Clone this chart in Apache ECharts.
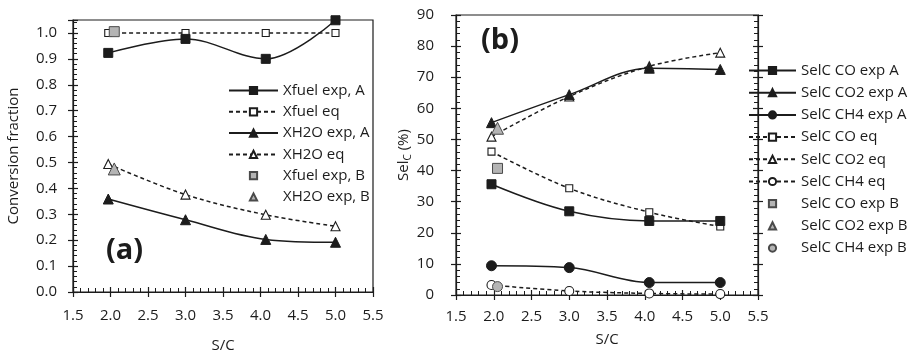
<!DOCTYPE html>
<html>
<head>
<meta charset="utf-8">
<script src="https://cdn.jsdelivr.net/npm/echarts@6/dist/echarts.min.js"></script>
<style>
html,body{margin:0;padding:0;background:#fff;}
#c{width:912px;height:358px;}
</style>
</head>
<body>
<div id="c"></div>
<script>
// ---- Data (panel a) ----
const xA = [1.97, 3.0, 4.07, 5.0];
const xB = [2.05];
const xfuelExpA = [0.923, 0.977, 0.900, 1.049];
const xfuelEq = [1.0, 1.0, 1.0, 1.0];
const xh2oExpA = [0.359, 0.279, 0.203, 0.192];
const xh2oEq = [0.494, 0.376, 0.298, 0.254];
const xfuelExpB = [1.005];
const xh2oExpB = [0.475];

// ---- Data (panel b) ----
const xSel = [1.97, 3.0, 4.06, 5.0];
const selCOexpA = [35.6, 26.9, 23.8, 23.8];
const selCO2expA = [55.4, 64.4, 72.9, 72.5];
const selCH4expA = [9.4, 8.8, 4.0, 4.0];
const selCOeq = [46.1, 34.3, 26.6, 22.0];
const selCO2eq = [50.9, 63.8, 73.5, 77.9];
const selCH4eq = [3.2, 1.3, 0.5, 0.3];
const selCOexpB = [40.7];
const selCO2expB = [53.6];
const selCH4expB = [2.7];

const xTickLabels = ['1.5','2.0','2.5','3.0','3.5','4.0','4.5','5.0','5.5'];
const yTickLabelsA = ['0.0','0.1','0.2','0.3','0.4','0.5','0.6','0.7','0.8','0.9','1.0'];
const yTickLabelsB = ['0','10','20','30','40','50','60','70','80','90'];

const pairs = (xs, ys) => ys.map((y, i) => [xs[i], y]);

const FONT = 'Open Sans';
const INK = '#1c1c1c';
const GREY = '#b4b4b4';

function fmtFrom(list, dec) {
  return function (v) {
    const s = v.toFixed(dec);
    return list.indexOf(s) >= 0 ? s : '';
  };
}

function mainX(gridIndex, margin, name, nameGap) {
  return {
    type: 'value', gridIndex, min: 1.5, max: 5.5, interval: 0.5,
    position: 'bottom',
    name, nameLocation: 'middle', nameGap,
    nameTextStyle: {fontFamily: FONT, fontSize: 15, color: INK},
    axisLine: {show: true, onZero: false, lineStyle: {color: INK, width: 1.2}},
    axisTick: {show: true, inside: true, length: 5, lineStyle: {color: INK, width: 1.2}},
    minorTick: {show: true, splitNumber: 5, length: 4, lineStyle: {color: INK, width: 1}},
    splitLine: {show: false},
    axisLabel: {margin, fontFamily: FONT, fontSize: 15, color: INK, formatter: fmtFrom(xTickLabels, 1)}
  };
}
function outX(gridIndex) {
  return {
    type: 'value', gridIndex, min: 1.5, max: 5.5, interval: 0.5, position: 'bottom',
    axisLine: {show: false, onZero: false},
    axisTick: {show: true, inside: false, length: 5, lineStyle: {color: INK, width: 1.2}},
    axisLabel: {show: false}, splitLine: {show: false}
  };
}
function mainY(gridIndex, min, max, interval, labels, dec, margin, name, nameGap, position, showLabel) {
  return {
    type: 'value', gridIndex, min, max, interval, position: position || 'left',
    name, nameLocation: 'middle', nameGap, nameRotate: 90,
    nameTextStyle: {fontFamily: FONT, fontSize: 15, color: INK,
      rich: {
        n: {fontFamily: FONT, fontSize: 15, color: INK},
        s: {fontFamily: FONT, fontSize: 10, color: INK, verticalAlign: 'bottom', padding: [8, 0, 0, 0]}
      }},
    axisLine: {show: true, onZero: false, lineStyle: {color: INK, width: 1.2}},
    axisTick: {show: true, inside: true, length: 5, lineStyle: {color: INK, width: 1.2}},
    minorTick: {show: true, splitNumber: 5, length: 4, lineStyle: {color: INK, width: 1}},
    splitLine: {show: false},
    axisLabel: {show: showLabel !== false, margin, fontFamily: FONT, fontSize: 15, color: INK, formatter: fmtFrom(labels, dec)}
  };
}
function outY(gridIndex, min, max, interval, position) {
  return {
    type: 'value', gridIndex, min, max, interval, position,
    axisLine: {show: false, onZero: false},
    axisTick: {show: true, inside: false, length: 5, lineStyle: {color: INK, width: 1.2}},
    axisLabel: {show: false}, splitLine: {show: false}
  };
}

function lineSeries(name, xi, yi, data, symbol, size, filled, dashed) {
  return {
    name, type: 'line', xAxisIndex: xi, yAxisIndex: yi, data,
    smooth: 0.35, symbol, symbolSize: size, showSymbol: true,
    lineStyle: {color: INK, width: 1.5, type: dashed ? [4, 3] : 'solid'},
    itemStyle: filled
      ? {color: INK, borderColor: INK, borderWidth: 1}
      : {color: '#fff', borderColor: INK, borderWidth: 1.1},
    z: dashed ? 3 : 4,
    emphasis: {disabled: true}
  };
}
function greySeries(name, xi, yi, data, symbol, size) {
  return {
    name, type: 'line', xAxisIndex: xi, yAxisIndex: yi, data,
    symbol, symbolSize: size, showSymbol: true,
    lineStyle: {width: 0, opacity: 0},
    itemStyle: {color: GREY, borderColor: '#4a4a4a', borderWidth: 1},
    z: 5, emphasis: {disabled: true}
  };
}

const chart = echarts.init(document.getElementById('c'), null, {renderer: 'canvas'});
const option = {
  animation: false,
  backgroundColor: '#fff',
  grid: [
    {left: 73, top: 20, width: 300, height: 277, show: true, borderColor: INK, borderWidth: 1.2, backgroundColor: 'transparent'},
    {left: 456, top: 15, width: 302, height: 280, show: true, borderColor: INK, borderWidth: 1.2, backgroundColor: 'transparent'}
  ],
  xAxis: [
    mainX(0, 16, 'S/C', 46),
    outX(0),
    mainX(1, 14, 'S/C', 37),
    outX(1)
  ],
  yAxis: [
    mainY(0, 0, 1.05, 0.1, yTickLabelsA, 1, 16, 'Conversion fraction', 52, 'left'),
    outY(0, 0, 1.05, 0.1, 'left'),
    mainY(1, 0, 90, 10, yTickLabelsB, 0, 22, '{n|Sel}{s|C}{n| (%)}', 42, 'left'),
    outY(1, 0, 90, 10, 'left'),
    mainY(1, 0, 90, 10, yTickLabelsB, 0, 8, '', 0, 'right', false),
    outY(1, 0, 90, 10, 'right')
  ],
  legend: [
    {
      left: 223, top: 78, orient: 'vertical', itemWidth: 49, itemHeight: 9, itemGap: 6.3,
      textStyle: {fontFamily: FONT, fontSize: 15, color: INK},
      selectedMode: false,
      data: ['Xfuel exp, A', 'Xfuel eq', 'XH2O exp, A', 'XH2O eq', 'Xfuel exp, B', 'XH2O exp, B']
    },
    {
      left: 743, top: 58, orient: 'vertical', itemWidth: 47, itemHeight: 9, itemGap: 7.2,
      textStyle: {fontFamily: FONT, fontSize: 15, color: INK},
      selectedMode: false,
      data: ['SelC CO exp A', 'SelC CO2 exp A', 'SelC CH4 exp A', 'SelC CO eq', 'SelC CO2 eq', 'SelC CH4 eq', 'SelC CO exp B', 'SelC CO2 exp B', 'SelC CH4 exp B']
    }
  ],
  graphic: [
    {type: 'text', left: 106, top: 236, style: {text: '(a)', fontFamily: FONT, fontWeight: 'bold', fontSize: 29, fill: INK}},
    {type: 'text', left: 481, top: 26, style: {text: '(b)', fontFamily: FONT, fontWeight: 'bold', fontSize: 29, fill: INK}}
  ],
  series: [
    lineSeries('Xfuel exp, A', 0, 0, pairs(xA, xfuelExpA), 'rect', 9, true, false),
    lineSeries('Xfuel eq', 0, 0, pairs(xA, xfuelEq), 'rect', 7, false, true),
    lineSeries('XH2O exp, A', 0, 0, pairs(xA, xh2oExpA), 'triangle', 10, true, false),
    lineSeries('XH2O eq', 0, 0, pairs(xA, xh2oEq), 'triangle', 9, false, true),
    greySeries('Xfuel exp, B', 0, 0, pairs(xB, xfuelExpB), 'rect', 10),
    greySeries('XH2O exp, B', 0, 0, pairs(xB, xh2oExpB), 'triangle', 12),

    lineSeries('SelC CO exp A', 2, 2, pairs(xSel, selCOexpA), 'rect', 9, true, false),
    lineSeries('SelC CO2 exp A', 2, 2, pairs(xSel, selCO2expA), 'triangle', 10, true, false),
    lineSeries('SelC CH4 exp A', 2, 2, pairs(xSel, selCH4expA), 'circle', 10, true, false),
    lineSeries('SelC CO eq', 2, 2, pairs(xSel, selCOeq), 'rect', 7, false, true),
    lineSeries('SelC CO2 eq', 2, 2, pairs(xSel, selCO2eq), 'triangle', 9, false, true),
    lineSeries('SelC CH4 eq', 2, 2, pairs(xSel, selCH4eq), 'circle', 9, false, true),
    greySeries('SelC CO exp B', 2, 2, pairs(xB, selCOexpB), 'rect', 10),
    greySeries('SelC CO2 exp B', 2, 2, pairs(xB, selCO2expB), 'triangle', 12),
    greySeries('SelC CH4 exp B', 2, 2, pairs(xB, selCH4expB), 'circle', 10)
  ]
};
chart.setOption(option);
</script>
</body>
</html>
